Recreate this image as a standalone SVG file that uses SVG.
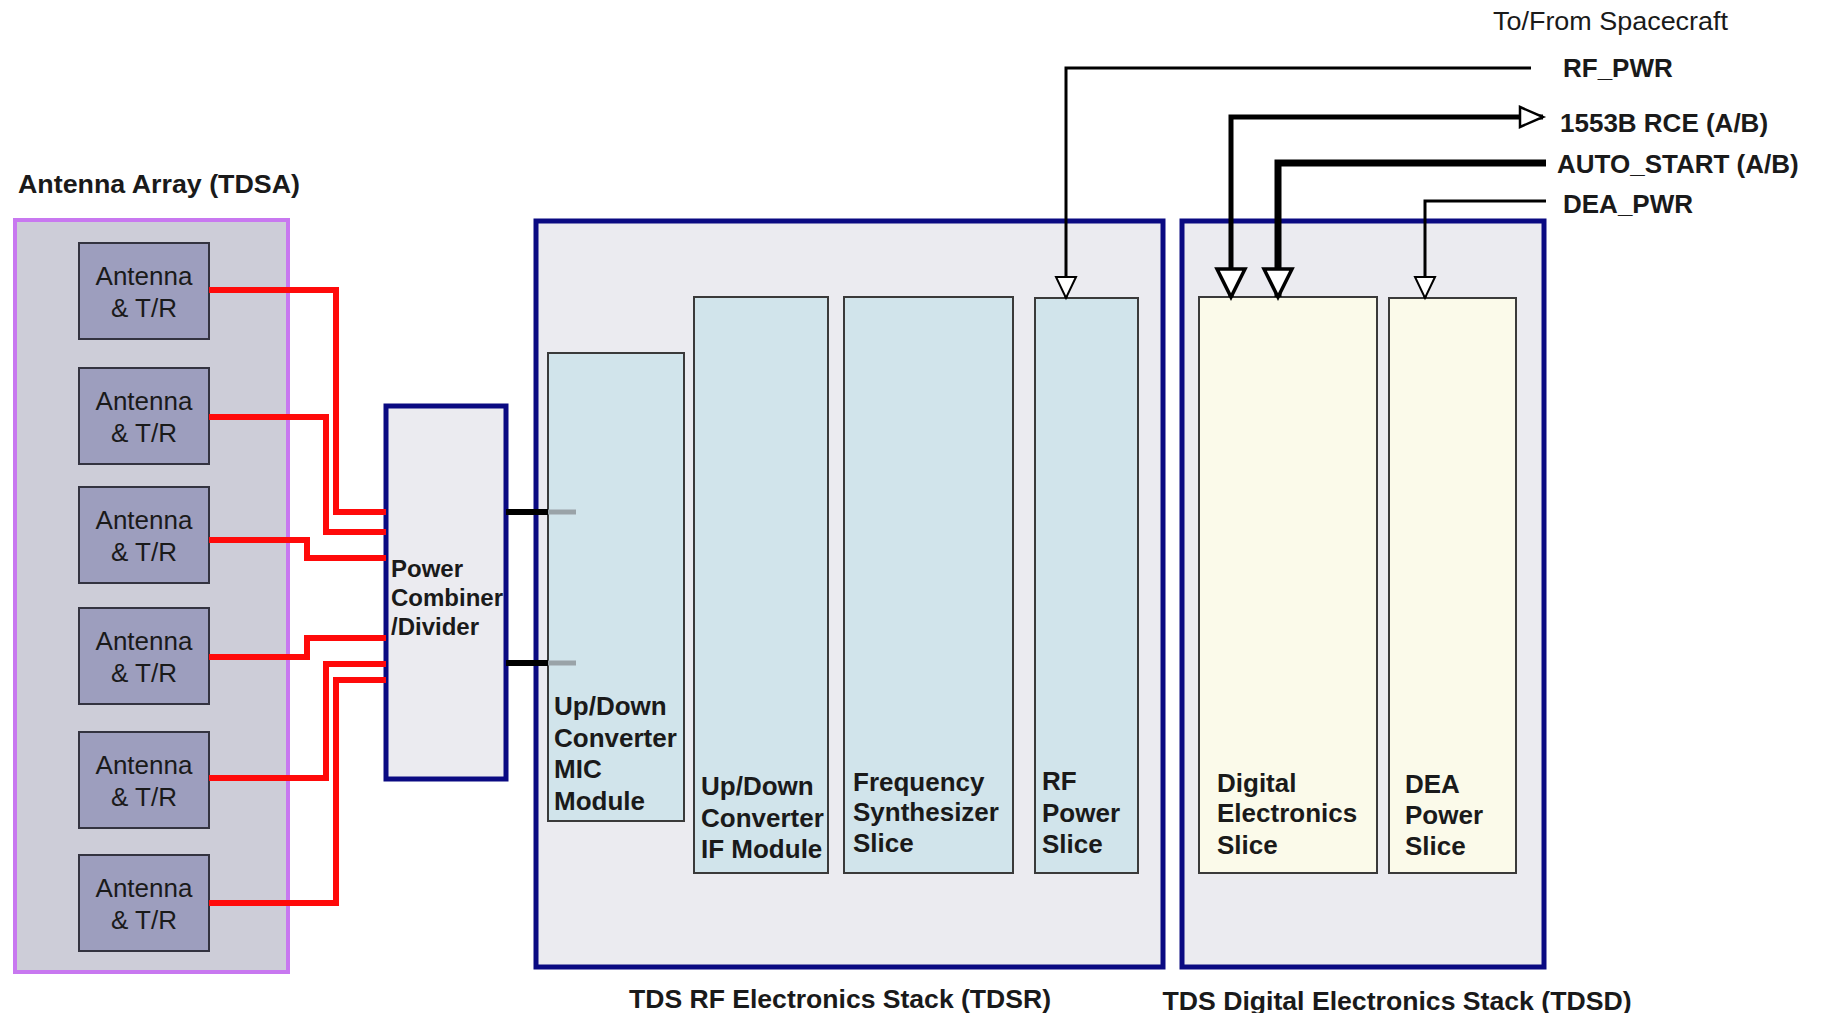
<svg xmlns="http://www.w3.org/2000/svg" width="1827" height="1013" viewBox="0 0 1827 1013">
<style>
text { font-family: "Liberation Sans", Arial, sans-serif; fill: #1a1a1a; }
.b { font-weight: bold; font-size: 26px; }
.ant { font-size: 26px; text-anchor: middle; }
.cmb { font-weight: bold; font-size: 24px; }
.stack { fill: #ebebf0; stroke: #0a0a82; stroke-width: 5; }
.antbox { fill: #9d9ebe; stroke: #333340; stroke-width: 2; }
.rfmod { fill: #d1e4eb; stroke: #3a3a3a; stroke-width: 2; }
.dmod { fill: #fbfaea; stroke: #3a3a3a; stroke-width: 2; }
.red { fill: none; stroke: #ff0a0a; stroke-width: 6; stroke-linejoin: miter; }
.sig { fill: none; stroke: #000; stroke-linejoin: miter; }
</style>
<defs>
<marker id="arrThin" viewBox="0 -12 24 24" markerWidth="24" markerHeight="24" refX="22" refY="0" orient="auto" markerUnits="userSpaceOnUse" overflow="visible">
<path d="M1,-10 L22,0 L1,10 Z" fill="#fff" stroke="#000" stroke-width="2"/>
</marker>
<marker id="arrBig" viewBox="0 -16 32 32" markerWidth="32" markerHeight="32" refX="29" refY="0" orient="auto" markerUnits="userSpaceOnUse" overflow="visible">
<path d="M1,-14 L29,0 L1,14 Z" fill="#fff" stroke="#000" stroke-width="3.5"/>
</marker>
<marker id="arrMid" viewBox="0 -12 26 24" markerWidth="26" markerHeight="24" refX="24" refY="0" orient="auto-start-reverse" markerUnits="userSpaceOnUse" overflow="visible">
<path d="M1,-10 L24,0 L1,10 Z" fill="#fff" stroke="#000" stroke-width="2.5"/>
</marker>
<marker id="arrBigR" viewBox="0 -16 32 32" markerWidth="32" markerHeight="32" refX="29" refY="0" orient="auto-start-reverse" markerUnits="userSpaceOnUse" overflow="visible">
<path d="M1,-14 L29,0 L1,14 Z" fill="#fff" stroke="#000" stroke-width="3.5"/>
</marker>
</defs>

<rect x="0" y="0" width="1827" height="1013" fill="#ffffff"/>

<g id="antenna-array">
<text class="b" x="18" y="193" textLength="282" lengthAdjust="spacingAndGlyphs">Antenna Array (TDSA)</text>
<rect x="15" y="220" width="273" height="752" fill="#cdcdd8" stroke="#c878f0" stroke-width="4"/>
</g>

<g id="antenna-1"><rect class="antbox" x="79" y="243" width="130" height="96"/><text class="ant" x="144" y="285">Antenna</text><text class="ant" x="144" y="317">&amp; T/R</text></g>
<g id="antenna-2"><rect class="antbox" x="79" y="368" width="130" height="96"/><text class="ant" x="144" y="410">Antenna</text><text class="ant" x="144" y="442">&amp; T/R</text></g>
<g id="antenna-3"><rect class="antbox" x="79" y="487" width="130" height="96"/><text class="ant" x="144" y="529">Antenna</text><text class="ant" x="144" y="561">&amp; T/R</text></g>
<g id="antenna-4"><rect class="antbox" x="79" y="608" width="130" height="96"/><text class="ant" x="144" y="650">Antenna</text><text class="ant" x="144" y="682">&amp; T/R</text></g>
<g id="antenna-5"><rect class="antbox" x="79" y="732" width="130" height="96"/><text class="ant" x="144" y="774">Antenna</text><text class="ant" x="144" y="806">&amp; T/R</text></g>
<g id="antenna-6"><rect class="antbox" x="79" y="855" width="130" height="96"/><text class="ant" x="144" y="897">Antenna</text><text class="ant" x="144" y="929">&amp; T/R</text></g>

<g id="rf-stack">
<rect class="stack" x="536" y="221" width="627" height="746"/>
<text class="b" x="840" y="1008" text-anchor="middle" textLength="422" lengthAdjust="spacingAndGlyphs">TDS RF Electronics Stack (TDSR)</text>
</g>
<g id="digital-stack">
<rect class="stack" x="1182" y="221" width="362" height="746"/>
<text class="b" x="1397" y="1010" text-anchor="middle" textLength="469" lengthAdjust="spacingAndGlyphs">TDS Digital Electronics Stack (TDSD)</text>
</g>

<g id="power-combiner">
<rect class="stack" x="386" y="406" width="120" height="373"/>
<text class="cmb" x="391" y="577">Power</text>
<text class="cmb" x="391" y="606">Combiner</text>
<text class="cmb" x="391" y="635">/Divider</text>
</g>

<g id="mic-module">
<rect class="rfmod" x="548" y="353" width="136" height="468"/>
<text class="b" x="554" y="715">Up/Down</text>
<text class="b" x="554" y="747">Converter</text>
<text class="b" x="554" y="778">MIC</text>
<text class="b" x="554" y="810">Module</text>
</g>
<g id="if-module">
<rect class="rfmod" x="694" y="297" width="134" height="576"/>
<text class="b" x="701" y="795">Up/Down</text>
<text class="b" x="701" y="827">Converter</text>
<text class="b" x="701" y="858">IF Module</text>
</g>
<g id="freq-synth">
<rect class="rfmod" x="844" y="297" width="169" height="576"/>
<text class="b" x="853" y="791">Frequency</text>
<text class="b" x="853" y="821">Synthesizer</text>
<text class="b" x="853" y="852">Slice</text>
</g>
<g id="rf-power">
<rect class="rfmod" x="1035" y="298" width="103" height="575"/>
<text class="b" x="1042" y="790">RF</text>
<text class="b" x="1042" y="822">Power</text>
<text class="b" x="1042" y="853">Slice</text>
</g>
<g id="digital-slice">
<rect class="dmod" x="1199" y="297" width="178" height="576"/>
<text class="b" x="1217" y="792">Digital</text>
<text class="b" x="1217" y="822">Electronics</text>
<text class="b" x="1217" y="854">Slice</text>
</g>
<g id="dea-power">
<rect class="dmod" x="1389" y="298" width="127" height="575"/>
<text class="b" x="1405" y="793">DEA</text>
<text class="b" x="1405" y="824">Power</text>
<text class="b" x="1405" y="855">Slice</text>
</g>

<g id="spacecraft-labels">
<text x="1493" y="30" font-size="25" textLength="235" lengthAdjust="spacingAndGlyphs">To/From Spacecraft</text>
<text class="b" x="1563" y="77">RF_PWR</text>
<text class="b" x="1560" y="132">1553B RCE (A/B)</text>
<text class="b" x="1557" y="173">AUTO_START (A/B)</text>
<text class="b" x="1563" y="213">DEA_PWR</text>
</g>

<g id="connectors">
<path class="red" d="M209,290 H336 V512 H386"/>
<path class="red" d="M209,417 H326 V532 H386"/>
<path class="red" d="M209,540 H307 V558 H386"/>
<path class="red" d="M209,657 H307 V638 H386"/>
<path class="red" d="M209,778 H326 V664 H386"/>
<path class="red" d="M209,903 H336 V680 H386"/>
<path d="M506,512 H548" stroke="#000" stroke-width="6"/>
<path d="M548,512 H576" stroke="#9aa3a8" stroke-width="5"/>
<path d="M506,663 H548" stroke="#000" stroke-width="6"/>
<path d="M548,663 H576" stroke="#9aa3a8" stroke-width="5"/>
<path class="sig" d="M1531,68 H1066 V298" stroke-width="3" marker-end="url(#arrThin)"/>
<path class="sig" d="M1231,297 V117 H1543" stroke-width="5" marker-start="url(#arrBigR)" marker-end="url(#arrMid)"/>
<path class="sig" d="M1546,163 H1278 V297" stroke-width="7" marker-end="url(#arrBig)"/>
<path class="sig" d="M1546,201 H1425 V298" stroke-width="3" marker-end="url(#arrThin)"/>
</g>
</svg>
